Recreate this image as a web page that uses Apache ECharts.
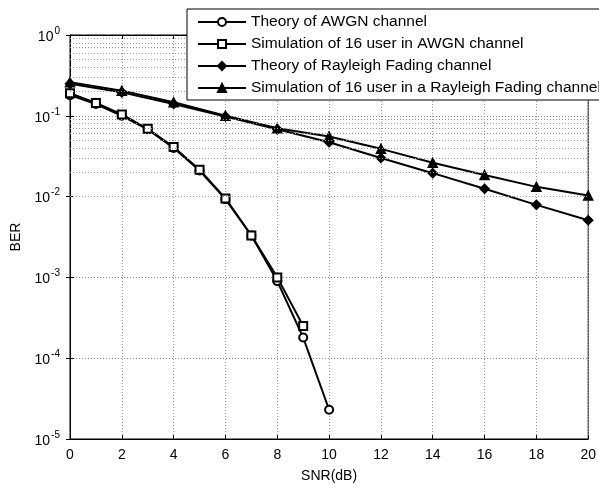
<!DOCTYPE html>
<html><head><meta charset="utf-8">
<script src="https://cdn.jsdelivr.net/npm/echarts@6/dist/echarts.min.js"></script>
<style>html,body{margin:0;padding:0;background:#fff}#c{width:599px;height:488px}</style>
</head><body><div id="c"></div>
<script>
const snrAwgn = [0,1,2,3,4,5,6,7,8,9,10];
const berAwgnTheory = [0.18,0.14,0.10,0.068,0.040,0.021,0.0093,0.0033,0.00090,0.00018,0.000023];
const snrAwgnSim = [0,1,2,3,4,5,6,7,8,9];
const berAwgnSim = [0.19,0.144,0.104,0.069,0.041,0.0215,0.0095,0.0033,0.0010,0.00025];
const snrRay = [0,2,4,6,8,10,12,14,16,18,20];
const berRayTheory = [0.25,0.195,0.14,0.098,0.068,0.047,0.030,0.0195,0.0125,0.0079,0.0051];
const berRaySim = [0.26,0.204,0.147,0.10,0.070,0.0555,0.039,0.0262,0.0185,0.0132,0.0103];
const seriesNames = ['Theory of AWGN channel','Simulation of 16 user in AWGN channel','Theory of Rayleigh Fading channel','Simulation of 16 user in a Rayleigh Fading channel'];
const yExponents = [0,-1,-2,-3,-4,-5];
const minorMultipliers = [2,3,4,5,6,7,8,9];

const minorLines = [];
yExponents.slice(1).forEach(e => minorMultipliers.forEach(m => minorLines.push({yAxis: m*Math.pow(10,e)})));

const zip = (xs, ys) => xs.map((x,i)=>[x, ys[i]]);
const font = 'Liberation Sans, Arial, sans-serif';
const baseSeries = {type:'line', xAxisIndex:0, yAxisIndex:0, lineStyle:{color:'#000', width:2}, itemStyle:{color:'#000', borderColor:'#000', borderWidth:1.5}, symbolSize:8, animation:false, z:3};

const chart = echarts.init(document.getElementById('c'));
chart.setOption({
  animation:false,
  backgroundColor:'#fff',
  grid:{left:70, right:7, top:35, bottom:43, show:true, borderColor:'#000', borderWidth:1},
  legend:{
    z:20, zlevel:1,
    orient:'vertical', left:187, top:9, padding:[4,10,3,10], itemGap:4, itemWidth:48, itemHeight:10,
    backgroundColor:'#fff', borderColor:'#000', borderWidth:1, borderRadius:0,
    textStyle:{fontFamily:font, fontSize:15.5, lineHeight:18, color:'#000', padding:[0,0,0,0]},
    data: seriesNames
  },
  xAxis:[{
    type:'value', min:0, max:20, interval:2, name:'SNR(dB)', nameLocation:'middle', nameGap:30,
    nameTextStyle:{fontFamily:font, fontSize:14, color:'#000'},
    axisLine:{lineStyle:{color:'#000'}}, axisTick:{inside:true, length:4, lineStyle:{color:'#000'}},
    axisLabel:{fontFamily:font, fontSize:14, color:'#000', margin:9},
    splitLine:{show:true, lineStyle:{color:'#999', type:[1,2], width:1}}
  },{
    type:'value', min:0, max:20, interval:2, position:'top',
    axisLine:{lineStyle:{color:'#000'}}, axisTick:{inside:true, length:4, lineStyle:{color:'#000'}},
    axisLabel:{show:false}, splitLine:{show:false}
  }],
  yAxis:[{
    type:'log', logBase:10, min:1e-5, max:1, name:'BER', nameLocation:'middle', nameGap:44,
    nameTextStyle:{fontFamily:font, fontSize:14, color:'#000'},
    axisLine:{lineStyle:{color:'#000'}}, axisTick:{inside:true, length:4, lineStyle:{color:'#000'}},
    axisLabel:{margin:10, formatter: v => '{b|10}{s|' + Math.round(Math.log10(v)) + '}',
      rich:{b:{fontFamily:font, fontSize:14, color:'#000', padding:[4,0,0,0]}, s:{fontFamily:font, fontSize:10, color:'#000', padding:[0,0,8,1]}}},
    splitLine:{show:true, lineStyle:{color:'#888', type:[1,2], width:1}}
  },{
    type:'log', logBase:10, min:1e-5, max:1, position:'right',
    axisLine:{lineStyle:{color:'#000'}}, axisTick:{inside:true, length:4, lineStyle:{color:'#000'}},
    axisLabel:{show:false}, splitLine:{show:false}
  }],
  series:[
    Object.assign({}, baseSeries, {name:seriesNames[0], data:zip(snrAwgn, berAwgnTheory), symbol:'emptyCircle',
      markLine:{silent:true, symbol:['none','none'], label:{show:false}, animation:false,
        lineStyle:{color:'#999', type:[1,2], width:1}, data:minorLines}}),
    Object.assign({}, baseSeries, {name:seriesNames[1], data:zip(snrAwgnSim, berAwgnSim), symbol:'emptyRect', symbolSize:8}),
    Object.assign({}, baseSeries, {name:seriesNames[2], data:zip(snrRay, berRayTheory), symbol:'diamond', symbolSize:9}),
    Object.assign({}, baseSeries, {name:seriesNames[3], data:zip(snrRay, berRaySim), symbol:'triangle', symbolSize:9})
  ]
});
</script></body></html>
